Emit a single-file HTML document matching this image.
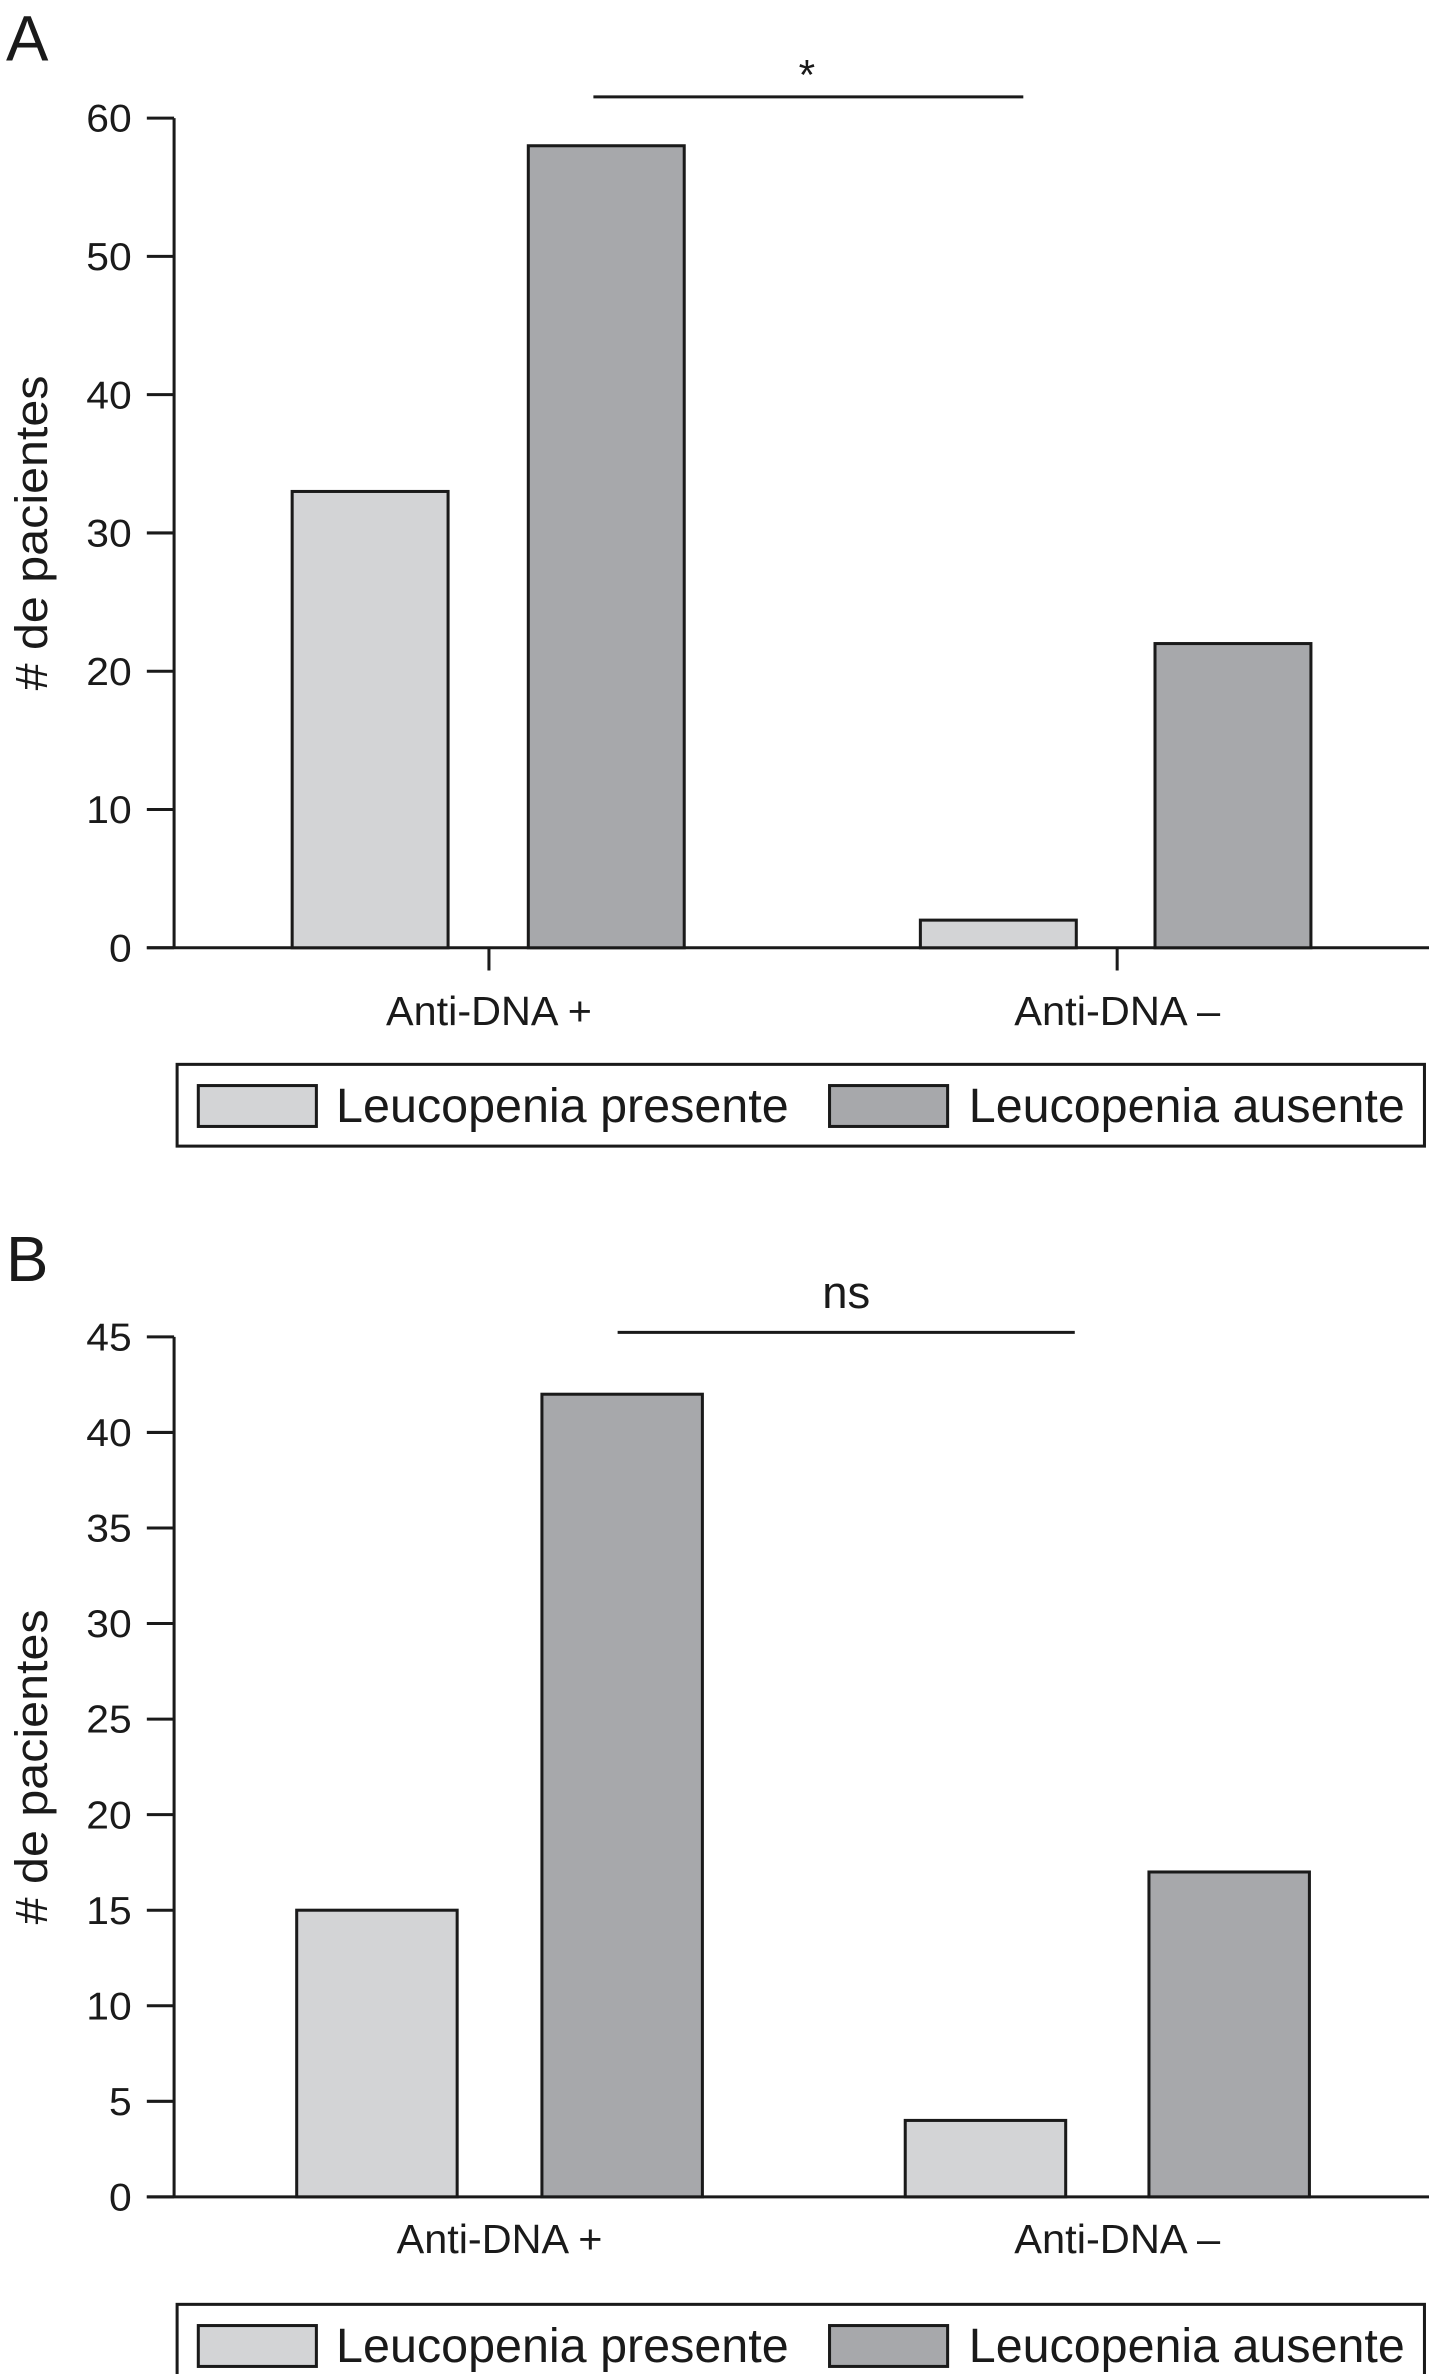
<!DOCTYPE html>
<html><head><meta charset="utf-8"><style>
html,body{margin:0;padding:0;background:#fff;}
svg{display:block;}
text{font-family:"Liberation Sans Narrow","Liberation Sans",sans-serif;fill:#1a1a1a;}
</style></head><body>
<svg id="fig" width="1429" height="2374" viewBox="0 0 944 1568" preserveAspectRatio="none" xmlns="http://www.w3.org/2000/svg"></svg>
<script>
const categories = ["Anti-DNA +", "Anti-DNA –"];
const seriesNames = ["Leucopenia presente", "Leucopenia ausente"];
const aPresente = [33, 2];
const aAusente = [58, 22];
const aTicks = [0, 10, 20, 30, 40, 50, 60];
const bPresente = [15, 4];
const bAusente = [42, 17];
const bTicks = [0, 5, 10, 15, 20, 25, 30, 35, 40, 45];

const NS = "http://www.w3.org/2000/svg";
const svg = document.getElementById("fig");
function mk(tag, attrs, parent) {
  const e = document.createElementNS(NS, tag);
  for (const k in attrs) e.setAttribute(k, attrs[k]);
  (parent || svg).appendChild(e);
  return e;
}
const colors = ["#d3d4d6", "#a7a8ab"];

function panel(cfg) {
  const g = mk("g", {});
  
  
  const maxV = cfg.ticks[cfg.ticks.length - 1];
  const y = v => cfg.y0 - (v / maxV) * (cfg.y0 - cfg.yTop);
  const L = mk("text", {x: 4, y: cfg.letterY, "font-size": 42, "font-family": "Liberation Sans, sans-serif"}, g);
  L.textContent = cfg.letter;
  
  
  const ya = mk("line", {x1: 115, y1: y(0), x2: 115, y2: y(maxV), stroke: "#1a1a1a", "stroke-width": 2}, g);
  
  
  cfg.ticks.forEach(t => {
    const tk = mk("line", {x1: 97, y1: y(t), x2: 115, y2: y(t), stroke: "#1a1a1a", "stroke-width": 2}, g);
    
    
    const s = String(t);
    const tl = mk("text", {x: 87, y: y(t) + 9, "text-anchor": "end", "font-size": 26, textLength: s.length * 15, lengthAdjust: "spacingAndGlyphs"}, g);
    tl.textContent = s;
    
    
  });
  const yt = mk("text", {x: 0, y: 0, "text-anchor": "middle", "font-size": 30, textLength: 208, lengthAdjust: "spacingAndGlyphs", transform: `translate(31,${(y(0)+y(maxV))/2}) rotate(-90)`}, g);
  yt.textContent = "# de pacientes";
  
  
  const xa = mk("line", {x1: 97, y1: y(0), x2: 944, y2: y(0), stroke: "#1a1a1a", "stroke-width": 2}, g);
  
  
  [cfg.pres, cfg.aus].forEach((arr, s) => {
    arr.forEach((v, i) => {
      const x = cfg.barX[s][i];
      const r = mk("rect", {x: x, y: y(v), width: cfg.barW, height: y(0) - y(v), fill: colors[s], stroke: "#1a1a1a", "stroke-width": 2}, g);
      
      
    });
  });
  categories.forEach((c, i) => {
    if (cfg.catTicks) {
      const ct = mk("line", {x1: cfg.catX[i], y1: y(0), x2: cfg.catX[i], y2: y(0) + 15, stroke: "#1a1a1a", "stroke-width": 2}, g);
      
      
    }
    const cl = mk("text", {x: cfg.catX[i], y: cfg.catLabelY, "text-anchor": "middle", "font-size": 27, textLength: 136, lengthAdjust: "spacingAndGlyphs"}, g);
    cl.textContent = c;
    
    
  });
  const sl = mk("line", {x1: cfg.sig[0], y1: cfg.sig[2], x2: cfg.sig[1], y2: cfg.sig[2], stroke: "#1a1a1a", "stroke-width": 2}, g);
  
  
  const st = mk("text", {x: cfg.sigX, y: cfg.sigTextY, "text-anchor": "middle", "font-size": cfg.sigSize}, g);
  st.textContent = cfg.sigText;
  
  
  const lg = mk("g", {}, g);
  
  
  mk("rect", {x: 117, y: cfg.legY, width: 824, height: 54, fill: "#fff", stroke: "#1a1a1a", "stroke-width": 2}, lg);
  const sx = [131, 548], tx = [222, 640], tw = [299, 288];
  seriesNames.forEach((n, s) => {
    const sw = mk("rect", {x: sx[s], y: cfg.legY + 14, width: 78, height: 27, fill: colors[s], stroke: "#1a1a1a", "stroke-width": 2}, lg);
    
    
    const lt = mk("text", {x: tx[s], y: cfg.legY + 38, "font-size": 32, textLength: tw[s], lengthAdjust: "spacingAndGlyphs"}, lg);
    lt.textContent = n;
    
    
  });
}

panel({name: "chart-a", letter: "A", letterY: 40, y0: 626, yTop: 78, ticks: aTicks,
  pres: aPresente, aus: aAusente, barW: 103,
  barX: [[193, 608], [349, 763]], catX: [323, 738], catTicks: true, catLabelY: 677,
  sig: [392, 676, 64], sigX: 533, sigText: "*", sigTextY: 59, sigSize: 28, legY: 703});
panel({name: "chart-b", letter: "B", letterY: 846, y0: 1451, yTop: 883, ticks: bTicks,
  pres: bPresente, aus: bAusente, barW: 106,
  barX: [[196, 598], [358, 759]], catX: [330, 738], catTicks: false, catLabelY: 1488,
  sig: [408, 710, 880], sigX: 559, sigText: "ns", sigTextY: 864, sigSize: 30, legY: 1522});
</script>
</body></html>
